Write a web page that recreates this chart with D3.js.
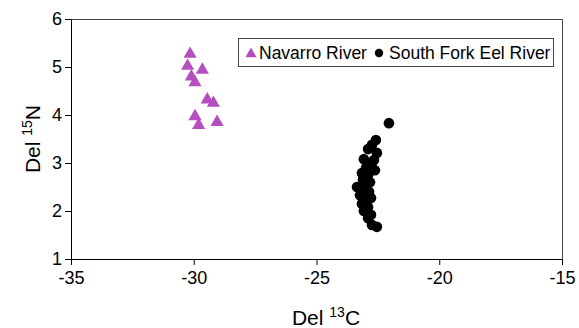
<!DOCTYPE html>
<html>
<head>
<meta charset="utf-8">
<script src="https://cdn.jsdelivr.net/npm/d3@7"></script>
<style>
  body { margin: 0; background: #fff; }
  text { font-family: "Liberation Sans", Arial, sans-serif; }
</style>
</head>
<body>
<svg width="579" height="328"></svg>
<script>
// Navarro River (triangles)
var navarroC = [-30.15, -30.25, -29.65, -30.1, -29.95, -29.45, -29.2, -29.95, -29.8, -29.05];
var navarroN = [5.27, 5.02, 4.94, 4.80, 4.68, 4.32, 4.25, 3.97, 3.79, 3.85];

// South Fork Eel River (circles)
var eelC = [-22.05, -22.58, -22.74, -22.90, -22.54, -23.07, -22.74, -22.98, -22.62, -23.15,
            -22.90, -23.11, -22.82, -23.35, -23.02, -22.86, -23.11, -22.98, -22.78, -23.15,
            -22.90, -23.07, -22.78, -22.90, -22.74, -22.54, -23.23, -22.66];
var eelN = [3.83, 3.48, 3.38, 3.29, 3.21, 3.08, 3.00, 2.90, 2.85, 2.79,
            2.75, 2.65, 2.60, 2.50, 2.48, 2.40, 2.31, 2.23, 2.27, 2.15,
            2.08, 2.00, 1.92, 1.85, 1.71, 1.67, 2.33, 3.06];

var xTicks = [-35, -30, -25, -20, -15];
var yTicks = [1, 2, 3, 4, 5, 6];
var seriesNames = ["Navarro River", "South Fork Eel River"];

var svg = d3.select("svg");
var plotL = 71, plotR = 562, plotT = 19, plotB = 259;
var purple = "#b54fbf";

var x = d3.scaleLinear().domain([-35, -15]).range([plotL, plotR]);
var y = d3.scaleLinear().domain([1, 6]).range([plotB, plotT]);

// frame on top and right
svg.append("path")
  .attr("d", "M" + plotL + "," + (plotT + 0.5) + "H" + (plotR + 0.5) + "V" + plotB)
  .attr("fill", "none").attr("stroke", "#444").attr("stroke-width", 1);

// axes
var fmt = function(d) { return String(d); };
var xAxis = svg.append("g")
  .attr("transform", "translate(0," + plotB + ")")
  .call(d3.axisBottom(x).tickValues(xTicks).tickFormat(fmt).tickSize(6).tickSizeOuter(0).tickPadding(6));
var yAxis = svg.append("g")
  .attr("transform", "translate(" + plotL + ",0)")
  .call(d3.axisLeft(y).tickValues(yTicks).tickFormat(fmt).tickSize(6).tickSizeOuter(0).tickPadding(3));

[xAxis, yAxis].forEach(function(g) {
  g.select(".domain").attr("stroke", "#000");
  g.selectAll(".tick line").attr("stroke", "#000");
  g.selectAll(".tick text")
    .attr("fill", "#000")
    .style("font-size", "18px")
    .style("font-family", "Liberation Sans, Arial, sans-serif");
});

// axis titles
var xt = svg.append("text")
  .attr("x", 326).attr("y", 325)
  .attr("text-anchor", "middle")
  .style("font-size", "21px");
xt.append("tspan").text("Del ");
xt.append("tspan").attr("dy", -8).style("font-size", "14px").text("13");
xt.append("tspan").attr("dy", 8).text("C");

var yt = svg.append("text")
  .attr("transform", "translate(40,139) rotate(-90)")
  .attr("text-anchor", "middle")
  .style("font-size", "21px");
yt.append("tspan").text("Del ");
yt.append("tspan").attr("dy", -8).style("font-size", "14px").text("15");
yt.append("tspan").attr("dy", 8).text("N");

var tri = d3.symbol().type(d3.symbolTriangle).size(75);

// Eel River circles
svg.append("g").selectAll("circle")
  .data(eelC.map(function(c, i) { return [c, eelN[i]]; }))
  .join("circle")
  .attr("cx", function(d) { return x(d[0]); })
  .attr("cy", function(d) { return y(d[1]); })
  .attr("r", 5.3)
  .attr("fill", "#000");

// Navarro triangles
svg.append("g").selectAll("path")
  .data(navarroC.map(function(c, i) { return [c, navarroN[i]]; }))
  .join("path")
  .attr("d", tri)
  .attr("transform", function(d) { return "translate(" + x(d[0]) + "," + y(d[1]) + ")"; })
  .attr("fill", purple);

// legend
var lg = svg.append("g");
lg.append("rect")
  .attr("x", 238.5).attr("y", 38.5).attr("width", 315).attr("height", 28)
  .attr("fill", "#fff").attr("stroke", "#444");
lg.append("path").attr("d", d3.symbol().type(d3.symbolTriangle).size(55))
  .attr("transform", "translate(251,54)").attr("fill", purple);
lg.append("text").attr("x", 259).attr("y", 59).style("font-size", "17.5px").text(seriesNames[0]);
lg.append("circle").attr("cx", 379).attr("cy", 53).attr("r", 4.2).attr("fill", "#000");
lg.append("text").attr("x", 389).attr("y", 59).style("font-size", "17.5px").text(seriesNames[1]);
</script>
</body>
</html>
